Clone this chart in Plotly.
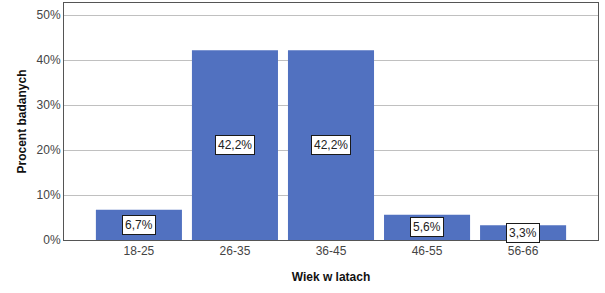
import plotly.graph_objects as go

categories = ["18-25", "26-35", "36-45", "46-55", "56-66"]
values = [6.7, 42.2, 42.2, 5.6, 3.3]
labels = ["6,7%", "42,2%", "42,2%", "5,6%", "3,3%"]
tick_vals = [0, 10, 20, 30, 40, 50]
tick_text = ["0%", "10%", "20%", "30%", "40%", "50%"]

fig = go.Figure()
fig.add_trace(go.Bar(
    x=categories, y=values,
    marker=dict(color="#5171C0", line=dict(width=0)),
    hoverinfo="skip",
))

for c, v, t in zip(categories, values, labels):
    fig.add_annotation(
        x=c, y=v / 2, text=t, showarrow=False,
        font=dict(family="Liberation Sans, Arial", size=12, color="#222"),
        bgcolor="white", bordercolor="#1a1a1a", borderwidth=1, borderpad=2,
        xanchor="center", yanchor="middle",
    )

fig.update_layout(
    width=605, height=293,
    margin=dict(l=64, r=7, t=3, b=53),
    paper_bgcolor="white", plot_bgcolor="white",
    bargap=0.104,
    showlegend=False,
    font=dict(family="Liberation Sans, Arial", size=12, color="#444"),
    xaxis=dict(
        range=[-0.78, 4.78],
        showline=True, linecolor="#555", linewidth=1, mirror=True,
        ticks="", showgrid=False,
        tickfont=dict(size=12, color="#444"),
        title=dict(text="<b>Wiek w latach</b>", font=dict(size=12, color="#111"), standoff=15),
    ),
    yaxis=dict(
        range=[0, 52.7],
        tickvals=tick_vals, ticktext=tick_text,
        showline=True, linecolor="#555", linewidth=1, mirror=True,
        showgrid=True, gridcolor="#c0c0c0", gridwidth=1,
        zeroline=False, ticks="",
        tickfont=dict(size=12, color="#444"),
        title=dict(text="<b>Procent badanych</b>", font=dict(size=12, color="#111"), standoff=7),
    ),
)

fig.write_html("out.html")
